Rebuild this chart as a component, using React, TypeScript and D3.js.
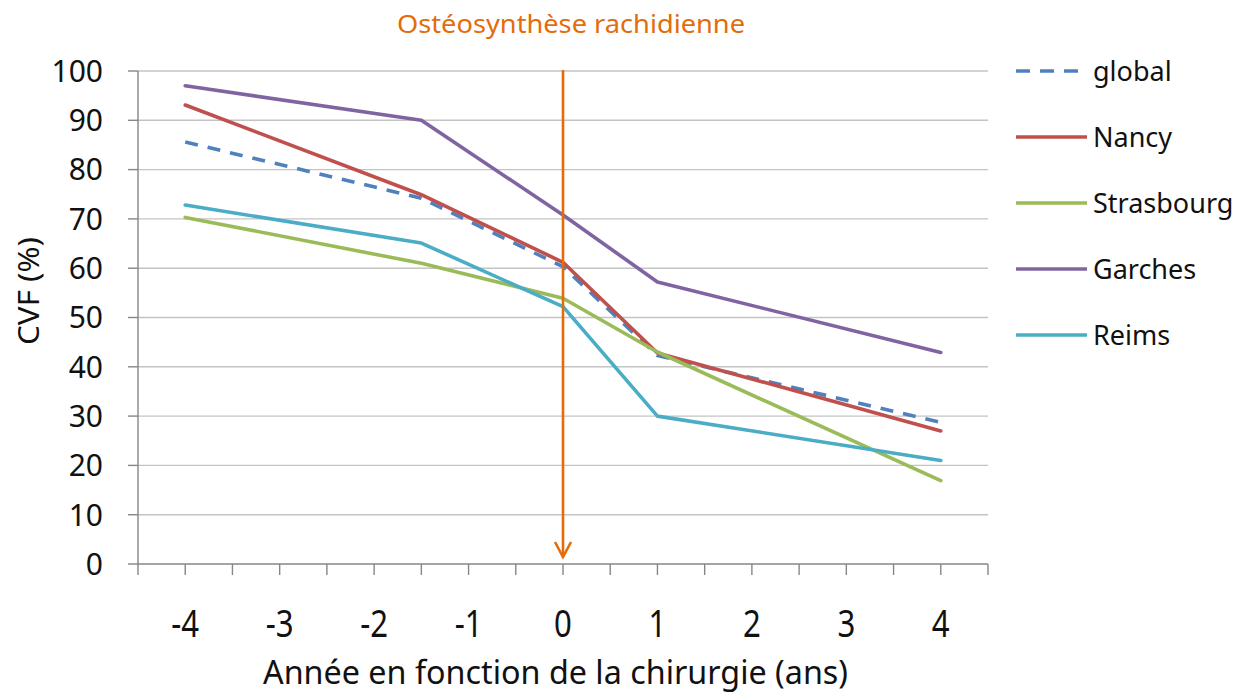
import React from "react";
import * as d3 from "d3";

const years = [-4, -1.5, 0, 1, 4];
const seriesNames = ["global", "Nancy", "Strasbourg", "Garches", "Reims"];
const globalValues = [85.6, 74.2, 60.3, 42.3, 28.7];
const nancyValues = [93.1, 74.9, 61.2, 42.8, 27.0];
const strasbourgValues = [70.3, 61.0, 53.9, 43.0, 16.9];
const garchesValues = [97.0, 90.0, 70.8, 57.2, 42.9];
const reimsValues = [72.8, 65.1, 52.2, 30.0, 21.0];
const yTicks = [0, 10, 20, 30, 40, 50, 60, 70, 80, 90, 100];
const xTickLabels = [-4, -3, -2, -1, 0, 1, 2, 3, 4];
const xMinorTicks = d3.range(-4.5, 4.51, 0.5);
const surgeryYear = 0;

const colors = ["#4f81bd", "#c0504d", "#9bbb59", "#8064a2", "#4bacc6"];
const allValues = [globalValues, nancyValues, strasbourgValues, garchesValues, reimsValues];

const width = 1248;
const height = 696;
const marginLeft = 138;
const marginRight = 260;
const marginTop = 71;
const marginBottom = 132;
const font = "'Noto Sans', 'Open Sans', sans-serif";
const orange = "#e46c0a";

const x = d3.scaleLinear().domain([-4.5, 4.5]).range([marginLeft, width - marginRight]);
const y = d3.scaleLinear().domain([0, 100]).range([height - marginBottom, marginTop]);

const line = d3
  .line<[number, number]>()
  .x((d) => x(d[0]))
  .y((d) => y(d[1]));

const App = () => {
  const x0 = x(surgeryYear);
  return (
    <svg
      width={width}
      height={height}
      style={{ position: "absolute", left: 0, top: 0, background: "#fff" }}
      fontFamily={font}
    >
      {/* grid */}
      {yTicks.map((t) => (
        <line
          key={t}
          x1={x.range()[0]}
          x2={x.range()[1]}
          y1={y(t)}
          y2={y(t)}
          stroke={t === 0 ? "#868686" : "#c4c4c4"}
          strokeWidth={1.4}
        />
      ))}
      {/* y axis */}
      <line x1={marginLeft} x2={marginLeft} y1={y(100)} y2={y(0)} stroke="#868686" strokeWidth={1.4} />
      {yTicks.map((t) => (
        <g key={"yt" + t}>
          <line x1={marginLeft - 10} x2={marginLeft} y1={y(t)} y2={y(t)} stroke="#868686" strokeWidth={1.4} />
          <text x={103} y={y(t)} dy="0.36em" textAnchor="end" fontSize={30} fill="#111">
            {t}
          </text>
        </g>
      ))}
      {/* x axis ticks */}
      {xMinorTicks.map((t) => (
        <line key={"xt" + t} x1={x(t)} x2={x(t)} y1={y(0)} y2={y(0) + 11} stroke="#868686" strokeWidth={1.4} />
      ))}
      {xTickLabels.map((t) => (
        <text
          key={"xl" + t}
          transform={`translate(${x(t)},${637}) scale(0.82,1)`}
          textAnchor="middle"
          fontSize={38}
          fill="#111"
        >
          {t}
        </text>
      ))}
      <text
        x={(263 + 848) / 2}
        y={684}
        textAnchor="middle"
        fontSize={32}
        fill="#111"
        textLength={585}
        lengthAdjust="spacingAndGlyphs"
      >
        Année en fonction de la chirurgie (ans)
      </text>
      <text
        transform={`translate(39,291) rotate(-90)`}
        textAnchor="middle"
        fontSize={29}
        fill="#111"
        textLength={108}
        lengthAdjust="spacingAndGlyphs"
      >
        CVF (%)
      </text>

      {/* series */}
      {allValues.map((vals, i) => (
        <path
          key={seriesNames[i]}
          d={line(years.map((yr, j) => [yr, vals[j]] as [number, number])) as string}
          fill="none"
          stroke={colors[i]}
          strokeWidth={3.6}
          strokeLinejoin="round"
          strokeLinecap={i === 0 ? "butt" : "round"}
          strokeDasharray={i === 0 ? "13,10" : undefined}
        />
      ))}

      {/* surgery arrow */}
      <line x1={x0} x2={x0} y1={y(100) - 1} y2={y(0) - 8} stroke={orange} strokeWidth={2.6} />
      <path
        d={`M${x0 - 8},${y(0) - 22}L${x0},${y(0) - 7}L${x0 + 8},${y(0) - 22}`}
        fill="none"
        stroke={orange}
        strokeWidth={2.6}
      />
      <text
        x={(397 + 745) / 2}
        y={33}
        textAnchor="middle"
        fontSize={26}
        fill={orange}
        textLength={348}
        lengthAdjust="spacingAndGlyphs"
      >
        Ostéosynthèse rachidienne
      </text>

      {/* legend */}
      {seriesNames.map((name, i) => {
        const ly = 71 + i * 66;
        return (
          <g key={"lg" + name}>
            <line
              x1={1016}
              x2={1087}
              y1={ly}
              y2={ly}
              stroke={colors[i]}
              strokeWidth={3.6}
              strokeDasharray={i === 0 ? "14,10" : undefined}
            />
            <text x={1093} y={ly} dy="0.36em" fontSize={27} fill="#111">
              {name}
            </text>
          </g>
        );
      })}
    </svg>
  );
};

export default App;
